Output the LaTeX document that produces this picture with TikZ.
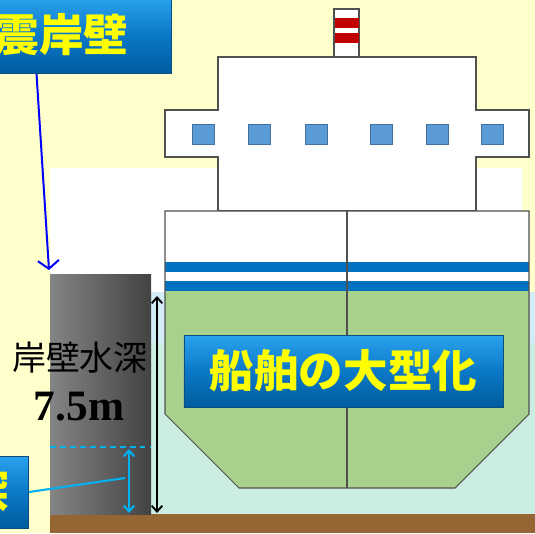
\documentclass[tikz,border=0pt]{standalone}
\usepackage{fontspec}
\newfontfamily\jpfont{Noto Sans CJK JP}
\newfontfamily\timesfont{Liberation Serif}
\usetikzlibrary{arrows.meta}
\usetikzlibrary{positioning}

\definecolor{paper}{HTML}{FFFFCC}
\definecolor{seaupper}{HTML}{D3ECF6}
\definecolor{sealower}{HTML}{CCEEE2}
\definecolor{seabed}{HTML}{966534}
\definecolor{hullgreen}{HTML}{A9D18E}
\definecolor{hullgray}{HTML}{505050}
\definecolor{stripeblue}{HTML}{0070C0}
\definecolor{windowblue}{HTML}{5B9BD5}
\definecolor{windowedge}{HTML}{41719C}
\definecolor{funnelred}{HTML}{C00000}
\definecolor{boxlight}{HTML}{2BA3EE}
\definecolor{boxblue}{HTML}{0B78C8}
\definecolor{boxdark}{HTML}{005C9E}
\definecolor{boxedge}{HTML}{0A4F80}
\definecolor{labelyellow}{HTML}{FFFF00}
\definecolor{depthcyan}{HTML}{00B0F0}

\begin{document}
\begin{tikzpicture}[x=0.03cm,y=-0.03cm,
	label box/.style={draw=boxedge,line width=0.8pt,top color=boxlight,bottom color=boxdark,
		middle color=boxblue,text=labelyellow,inner sep=0pt,
		font=\jpfont\bfseries\fontsize{38}{40}\selectfont},
	hull line/.style={draw=hullgray,line width=0.9pt},
	window/.style={fill=windowblue,draw=windowedge,line width=0.6pt},
	depth arrow/.style={{Straight Barb[length=5pt,width=9pt]}-{Straight Barb[length=5pt,width=9pt]}}]

	% background, sea and quay
	\useasboundingbox (0,0) rectangle (535,533);
	\fill[paper] (0,0) rectangle (535,533);
	\fill[white] (50,168) rectangle (522,292);
	\fill[seaupper] (151,292) rectangle (535,343);
	\fill[sealower] (151,343) rectangle (535,514);
	\fill[seabed] (50,514) rectangle (535,533);
	\shade[left color=black!48,right color=black!74] (50,274) rectangle (151,514);

	% ship
	\draw[hull line,fill=white] (334,9) rectangle (359,57);
	\foreach \y in {18,33}
		\fill[funnelred] (334.5,\y) rectangle (358.5,\y+10);
	\draw[hull line,fill=white] (218,57) -- (476,57) -- (476,110) -- (529,110) -- (529,157)
		-- (476,157) -- (476,211) -- (218,211) -- (218,157) -- (165,157) -- (165,110)
		-- (218,110) -- cycle;
	\foreach \x in {192,248,305,370,426,481}
		\draw[window] (\x,124) rectangle ++(22,20);
	\fill[hullgreen] (165,211) -- (529,211) -- (529,414) -- (455,488) -- (239,488)
		-- (165,414) -- cycle;
	\fill[white] (165,211) rectangle (529,291);
	\foreach \y in {262,281}
		\fill[stripeblue] (165,\y) rectangle (529,\y+10);
	\draw[hull line] (165,211) -- (529,211) -- (529,414) -- (455,488) -- (239,488)
		-- (165,414) -- cycle;
	\draw[hull line] (347,211) -- (347,488);

	% labels
	\node[label box,minimum width=9.57cm,minimum height=2.16cm] (ship) at (343.5,371) {船舶の大型化};
	\node[label box,minimum width=6.6cm,minimum height=2.31cm,anchor=north east] (quay) at (172,-4) {震岸壁};
	\node[label box,inner xsep=0.6cm,minimum height=2.16cm,anchor=east] (depth) at (29,492) {深};
	\node[font=\jpfont\fontsize{29}{30}\selectfont] (depth name) at (80,358) {岸壁水深};
	\node[font=\timesfont\bfseries\fontsize{37}{38}\selectfont] (depth value) at (79,407) {7.5m};

	% arrows
	\coordinate (quay top) at (49,270);
	\coordinate (wall face) at (157,296);
	\coordinate (wall foot) at (157,513);
	\coordinate (dredge top) at (129,449);
	\coordinate (dredge foot) at (129,513);
	\coordinate (dredge mark) at (125,478);
	\draw[blue,line width=1.7pt,-{Straight Barb[length=7pt,width=18pt]}]
		([xshift=-0.75cm]quay.south) -- (quay top);
	\draw[black,line width=1.6pt,depth arrow] (wall face) -- (wall foot);
	\draw[depthcyan,line width=1.7pt,dash pattern=on 5pt off 3.5pt] (50,447) -- (151,447);
	\draw[depthcyan,line width=1.8pt,depth arrow] (dredge top) -- (dredge foot);
	\draw[depthcyan,line width=1.8pt] (depth.east) -- (dredge mark);

\end{tikzpicture}
\end{document}
